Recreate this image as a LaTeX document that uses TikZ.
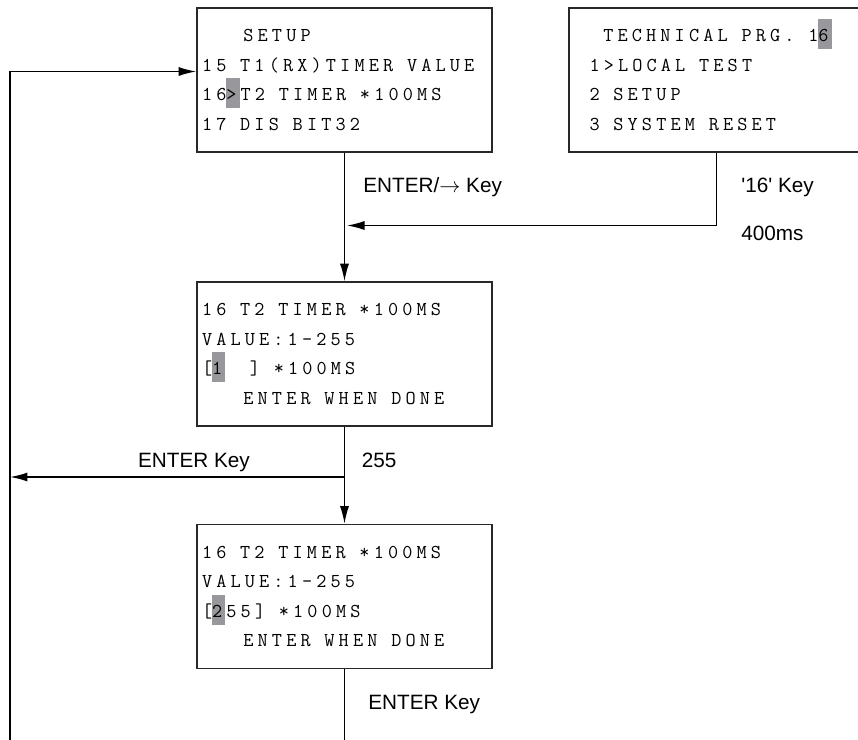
\documentclass[tikz,border=0pt]{standalone}
\usepackage{fontspec}
\setsansfont{Liberation Sans}
\newfontfamily\lcdfont{Latin Modern Mono}[LetterSpace=21.1]
\usetikzlibrary{arrows.meta,positioning}
\definecolor{cursor}{RGB}{152,152,156}
\definecolor{frame}{RGB}{40,40,40}
\newlength{\lcdpitch}
\setlength{\lcdpitch}{7.85pt}
\newcommand{\lcdscreen}{\lcdfont\fontsize{11.2}{16.8}\selectfont}
% grey cursor block behind one character
\newcommand{\curs}[1]{\makebox[0pt][l]{\hspace{-0.3pt}\smash{\textcolor{cursor}{\rule[-4.3pt]{\lcdpitch}{17.2pt}}}}#1}

\begin{document}
\begin{tikzpicture}[font=\sffamily\fontsize{11.8}{14}\selectfont,
    screen/.style={draw=frame, line width=0.9pt, minimum width=5.9cm, minimum height=2.88cm,
      text width=5.7cm, inner xsep=0.1cm, align=left, font=\lcdscreen,
      execute at begin node={\spaceskip=\lcdpitch\relax\xspaceskip=\lcdpitch\relax}},
    flow/.style={draw=black, line width=0.8pt, -{Latex[length=3.5mm, width=1.8mm]}},
    link/.style={draw=black, line width=0.8pt},
    lbl/.style={inner sep=0pt, anchor=base west}]
    \useasboundingbox (0,0) rectangle (17.16,-14.8);

    \node[screen] (setup) at (6.89,-1.60) {\hspace*{3\lcdpitch}SETUP\\15 T1(RX)TIMER VALUE\\16\curs{>}T2 TIMER *100MS\\17 DIS BIT32};
    \node[screen, text width=5.08cm, inner xsep=0.41cm] (techprg) at (14.33,-1.60)
      {\hspace*{\lcdpitch}TECHNICAL PRG. 1\curs{6}\\1>LOCAL TEST\\2 SETUP\\3 SYSTEM RESET};
    \node[screen] (entry) at (6.89,-7.08) {16 T2 TIMER *100MS\\VALUE:1-255\\{[}\curs{1}~~{]} *100MS\\\hspace*{3\lcdpitch}ENTER WHEN DONE};
    \node[screen] (entered) at (6.89,-11.93) {16 T2 TIMER *100MS\\VALUE:1-255\\{[}\curs{2}55{]} *100MS\\\hspace*{3\lcdpitch}ENTER WHEN DONE};

    \coordinate (merge) at (setup.south |- 0,-4.51);
    \coordinate (branch) at (entry.south |- 0,-9.54);
    \coordinate (return) at (0.2,-14.8);

    \node[lbl] (enterright) at (7.26,-3.84) {ENTER/$\rightarrow$ Key};
    \node[lbl] (key16) at (14.82,-3.85) {\textquotesingle16\textquotesingle{} Key};
    \node[lbl] (ms400) at (14.82,-4.80) {400ms};
    \node[lbl, anchor=base] (enterback) at (3.88,-9.35) {ENTER Key};
    \node[lbl] (max255) at (7.23,-9.35) {255};
    \node[lbl] (enterdone) at (7.36,-14.18) {ENTER Key};

    \draw[flow] (setup) -- (entry);
    \draw[flow, shorten >=0.05cm] (techprg) |- (merge);
    \draw[flow] (entry) -- (entered);
    \draw[flow] (branch) -- (branch -| return);
    \draw[link] (entered) -- (entered.south |- return);
    \draw[flow] (return) |- ([yshift=0.17cm]setup.west);
  \end{tikzpicture}
\end{document}
